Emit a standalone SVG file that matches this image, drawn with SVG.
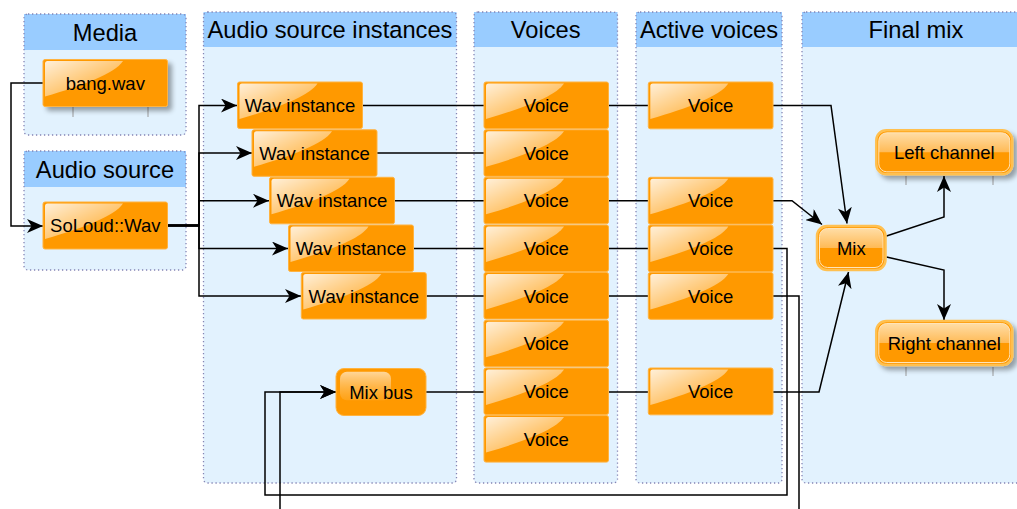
<svg xmlns="http://www.w3.org/2000/svg" width="1017" height="509" viewBox="0 0 1017 509">
<style>
.pbody{fill:#E2F2FE;}
.phead{fill:#99CCFF;}
.pborder{fill:none;stroke:#8484B4;stroke-width:1.3;stroke-dasharray:1.3 2.7;}
.htxt{font-family:"Liberation Sans",Arial,sans-serif;font-size:23.7px;fill:#000;text-anchor:middle;}
.ntxt{font-family:"Liberation Sans",Arial,sans-serif;font-size:18.5px;fill:#000;text-anchor:middle;}
.node{fill:#FF9900;stroke:#FFB340;stroke-width:1;}
.edge{fill:none;stroke:#000;stroke-width:1.5;}
.tick{stroke:#9a9a9a;stroke-width:1;}
.gouter{fill:#FF9900;stroke:#FFC050;stroke-width:2.5;}
.ginner{fill:none;stroke:#FFE4B8;stroke-width:1;}
</style>
<defs>
<linearGradient id="hlg" x1="0" y1="0" x2="1" y2="1">
<stop offset="0" stop-color="#fff" stop-opacity="0.85"/>
<stop offset="1" stop-color="#fff" stop-opacity="0.1"/>
</linearGradient>
<linearGradient id="gtop" x1="0" y1="0" x2="0" y2="1">
<stop offset="0" stop-color="#FFDDA6"/>
<stop offset="1" stop-color="#FFBA55"/>
</linearGradient>
<linearGradient id="mbhl" x1="0" y1="0" x2="0" y2="1">
<stop offset="0" stop-color="#FFD699"/>
<stop offset="1" stop-color="#FFB84D" stop-opacity="0.3"/>
</linearGradient>
<path id="hl" d="M2,4 Q2,1.5 4.5,1.5 H80 C72,14 40,26 2,37 Z" fill="url(#hlg)"/>
<filter id="sh" x="-20%" y="-30%" width="150%" height="170%">
<feGaussianBlur in="SourceAlpha" stdDeviation="2.5"/>
<feOffset dx="4" dy="4" result="b"/>
<feComponentTransfer><feFuncA type="linear" slope="0.35"/></feComponentTransfer>
<feMerge><feMergeNode/><feMergeNode in="SourceGraphic"/></feMerge>
</filter>
<marker id="arr" markerUnits="userSpaceOnUse" markerWidth="18" markerHeight="14" refX="16" refY="7" orient="auto" viewBox="0 0 18 14">
<path d="M0,0 L16,7 L0,14 L4.5,7 Z" fill="#000"/>
</marker>
</defs>

<g id="panels">
<g id="panel-media">
<rect class="pbody" x="24" y="14" width="162" height="121" rx="4"/>
<rect class="phead" x="24" y="14" width="162" height="36"/>
<rect class="pborder" x="24" y="14" width="162" height="121" rx="4"/>
<text class="htxt" x="105" y="40.5">Media</text>
</g>
<g id="panel-audiosource">
<rect class="pbody" x="24" y="151" width="162" height="119" rx="4"/>
<rect class="phead" x="24" y="151" width="162" height="36"/>
<rect class="pborder" x="24" y="151" width="162" height="119" rx="4"/>
<text class="htxt" x="105" y="177.5">Audio source</text>
</g>
<g id="panel-instances">
<rect class="pbody" x="203.5" y="12" width="253" height="471" rx="4"/>
<rect class="phead" x="203.5" y="12" width="253" height="35"/>
<rect class="pborder" x="203.5" y="12" width="253" height="471" rx="4"/>
<text class="htxt" x="330" y="38">Audio source instances</text>
</g>
<g id="panel-voices">
<rect class="pbody" x="474" y="12" width="143.5" height="471" rx="4"/>
<rect class="phead" x="474" y="12" width="143.5" height="35"/>
<rect class="pborder" x="474" y="12" width="143.5" height="471" rx="4"/>
<text class="htxt" x="545.7" y="38">Voices</text>
</g>
<g id="panel-active">
<rect class="pbody" x="636" y="12" width="146" height="471" rx="4"/>
<rect class="phead" x="636" y="12" width="146" height="35"/>
<rect class="pborder" x="636" y="12" width="146" height="471" rx="4"/>
<text class="htxt" x="709" y="38">Active voices</text>
</g>
<g id="panel-finalmix">
<rect class="pbody" x="802" y="12" width="228" height="471" rx="4"/>
<rect class="phead" x="802" y="12" width="228" height="35"/>
<rect class="pborder" x="802" y="12" width="228" height="471" rx="4"/>
<text class="htxt" x="916" y="38">Final mix</text>
</g>
</g>

<g id="connectors">
<path class="edge" d="M43,83 H11 V226 H43" marker-end="url(#arr)"/>
<path class="edge" d="M168,225.5 H199 V105.5 H237" marker-end="url(#arr)"/>
<path class="edge" d="M168,225.5 H199 V153 H252" marker-end="url(#arr)"/>
<path class="edge" d="M168,225.5 H199 V200.7 H269" marker-end="url(#arr)"/>
<path class="edge" d="M168,225.5 H199 V248.5 H288" marker-end="url(#arr)"/>
<path class="edge" d="M168,225.5 H199 V296 H301" marker-end="url(#arr)"/>
<path class="edge" d="M168,225.5 H199" style="stroke-width:2.5"/>
<path class="edge" d="M362.5,105.5 H484"/>
<path class="edge" d="M377,153 H484"/>
<path class="edge" d="M394.5,200.7 H484"/>
<path class="edge" d="M413.5,248.5 H484"/>
<path class="edge" d="M426.5,296 H484"/>
<path class="edge" d="M426,392 H484"/>
<path class="edge" d="M608.5,105.5 H648"/>
<path class="edge" d="M608.5,200.7 H648"/>
<path class="edge" d="M608.5,248.5 H648"/>
<path class="edge" d="M608.5,296 H648"/>
<path class="edge" d="M608.5,392 H648"/>
<path class="edge" d="M773,105.5 H831 L847,223.5" marker-end="url(#arr)"/>
<path class="edge" d="M773,200.7 H792 L822,224.5" marker-end="url(#arr)"/>
<path class="edge" d="M773,392 H819 L848.5,272" marker-end="url(#arr)"/>
<path class="edge" d="M773,248.5 H787 V495 H265 V392 H336" marker-end="url(#arr)"/>
<path class="edge" d="M773,296 H799 V525 H280 V392 H336" marker-end="url(#arr)"/>
<path class="edge" d="M886.5,236 L944,217 V176" marker-end="url(#arr)"/>
<path class="edge" d="M886.5,257 L944,270 V320" marker-end="url(#arr)"/>
</g>

<g id="node-bang">
<line class="tick" x1="73" y1="107" x2="73" y2="117"/>
<line class="tick" x1="148" y1="107" x2="148" y2="117"/>
<rect class="node" x="43" y="59.5" width="124.5" height="47" rx="2" filter="url(#sh)"/>
<use href="#hl" x="43" y="59.5"/>
<text class="ntxt" x="105.3" y="89.6">bang.wav</text>
</g>
<g id="node-soloudwav">
<rect class="node" x="43" y="202" width="124.5" height="47" rx="2"/>
<use href="#hl" x="43" y="202"/>
<text class="ntxt" x="105.3" y="232.1">SoLoud::Wav</text>
</g>

<g id="node-wav1"><rect class="node" x="237.5" y="82" width="125" height="46.5" rx="2"/><use href="#hl" x="237.5" y="82"/><text class="ntxt" x="300" y="112">Wav instance</text></g>
<g id="node-wav2"><rect class="node" x="252" y="129.8" width="125" height="46.5" rx="2"/><use href="#hl" x="252" y="129.8"/><text class="ntxt" x="314.5" y="159.7">Wav instance</text></g>
<g id="node-wav3"><rect class="node" x="269.5" y="177.3" width="125" height="46.5" rx="2"/><use href="#hl" x="269.5" y="177.3"/><text class="ntxt" x="332" y="207.3">Wav instance</text></g>
<g id="node-wav4"><rect class="node" x="288.5" y="225" width="125" height="46.5" rx="2"/><use href="#hl" x="288.5" y="225"/><text class="ntxt" x="351" y="255">Wav instance</text></g>
<g id="node-wav5"><rect class="node" x="301.3" y="272.5" width="125" height="46.5" rx="2"/><use href="#hl" x="301.3" y="272.5"/><text class="ntxt" x="363.8" y="302.5">Wav instance</text></g>

<g id="node-mixbus">
<rect class="node" x="336" y="368.5" width="90" height="47" rx="8"/>
<rect x="340" y="371.8" width="51" height="28.5" rx="7" fill="url(#mbhl)"/>
<text class="ntxt" x="381" y="398.6">Mix bus</text>
</g>

<g id="node-voice1"><rect class="node" x="484" y="82" width="124.5" height="46.5" rx="2"/><use href="#hl" x="484" y="82"/><text class="ntxt" x="546.3" y="112">Voice</text></g>
<g id="node-voice2"><rect class="node" x="484" y="129.8" width="124.5" height="46.5" rx="2"/><use href="#hl" x="484" y="129.8"/><text class="ntxt" x="546.3" y="159.7">Voice</text></g>
<g id="node-voice3"><rect class="node" x="484" y="177.3" width="124.5" height="46.5" rx="2"/><use href="#hl" x="484" y="177.3"/><text class="ntxt" x="546.3" y="207.3">Voice</text></g>
<g id="node-voice4"><rect class="node" x="484" y="225" width="124.5" height="46.5" rx="2"/><use href="#hl" x="484" y="225"/><text class="ntxt" x="546.3" y="255">Voice</text></g>
<g id="node-voice5"><rect class="node" x="484" y="272.5" width="124.5" height="46.5" rx="2"/><use href="#hl" x="484" y="272.5"/><text class="ntxt" x="546.3" y="302.5">Voice</text></g>
<g id="node-voice6"><rect class="node" x="484" y="320.3" width="124.5" height="46.5" rx="2"/><use href="#hl" x="484" y="320.3"/><text class="ntxt" x="546.3" y="350.2">Voice</text></g>
<g id="node-voice7"><rect class="node" x="484" y="368" width="124.5" height="46.5" rx="2"/><use href="#hl" x="484" y="368"/><text class="ntxt" x="546.3" y="398">Voice</text></g>
<g id="node-voice8"><rect class="node" x="484" y="415.6" width="124.5" height="46.5" rx="2"/><use href="#hl" x="484" y="415.6"/><text class="ntxt" x="546.3" y="445.6">Voice</text></g>

<g id="node-active1"><rect class="node" x="648.3" y="82" width="124.7" height="46.8" rx="2"/><use href="#hl" x="648.3" y="82"/><text class="ntxt" x="710.6" y="112">Voice</text></g>
<g id="node-active2"><rect class="node" x="648.3" y="177.3" width="124.7" height="46.8" rx="2"/><use href="#hl" x="648.3" y="177.3"/><text class="ntxt" x="710.6" y="207.3">Voice</text></g>
<g id="node-active3"><rect class="node" x="648.3" y="225" width="124.7" height="46.8" rx="2"/><use href="#hl" x="648.3" y="225"/><text class="ntxt" x="710.6" y="255">Voice</text></g>
<g id="node-active4"><rect class="node" x="648.3" y="272.5" width="124.7" height="46.8" rx="2"/><use href="#hl" x="648.3" y="272.5"/><text class="ntxt" x="710.6" y="302.5">Voice</text></g>
<g id="node-active5"><rect class="node" x="648.3" y="368" width="124.7" height="46.8" rx="2"/><use href="#hl" x="648.3" y="368"/><text class="ntxt" x="710.6" y="398">Voice</text></g>

<g id="node-mix">
<rect class="gouter" x="817" y="226" width="68.5" height="44" rx="10"/>
<path d="M819.5,248 V237 Q819.5,228.5 828,228.5 H874.5 Q883,228.5 883,237 V248 Z" fill="url(#gtop)"/>
<rect class="ginner" x="819.5" y="228.5" width="63.5" height="39" rx="8"/>
<text class="ntxt" x="851.3" y="254.6">Mix</text>
</g>

<g id="node-left">
<line class="tick" x1="906" y1="176" x2="906" y2="185"/>
<line class="tick" x1="993" y1="176" x2="993" y2="185"/>
<rect class="gouter" x="876.3" y="130.3" width="136" height="44" rx="10" filter="url(#sh)"/>
<path d="M878.8,152.3 V141.3 Q878.8,132.8 887.3,132.8 H1001.3 Q1009.8,132.8 1009.8,141.3 V152.3 Z" fill="url(#gtop)"/>
<rect class="ginner" x="878.8" y="132.8" width="131" height="39" rx="8"/>
<text class="ntxt" x="944.3" y="158.9">Left channel</text>
</g>

<g id="node-right">
<line class="tick" x1="906" y1="367" x2="906" y2="376"/>
<line class="tick" x1="993" y1="367" x2="993" y2="376"/>
<rect class="gouter" x="876.3" y="321" width="136" height="44" rx="10" filter="url(#sh)"/>
<path d="M878.8,343 V332 Q878.8,323.5 887.3,323.5 H1001.3 Q1009.8,323.5 1009.8,332 V343 Z" fill="url(#gtop)"/>
<rect class="ginner" x="878.8" y="323.5" width="131" height="39" rx="8"/>
<text class="ntxt" x="944.3" y="349.6">Right channel</text>
</g>
</svg>
